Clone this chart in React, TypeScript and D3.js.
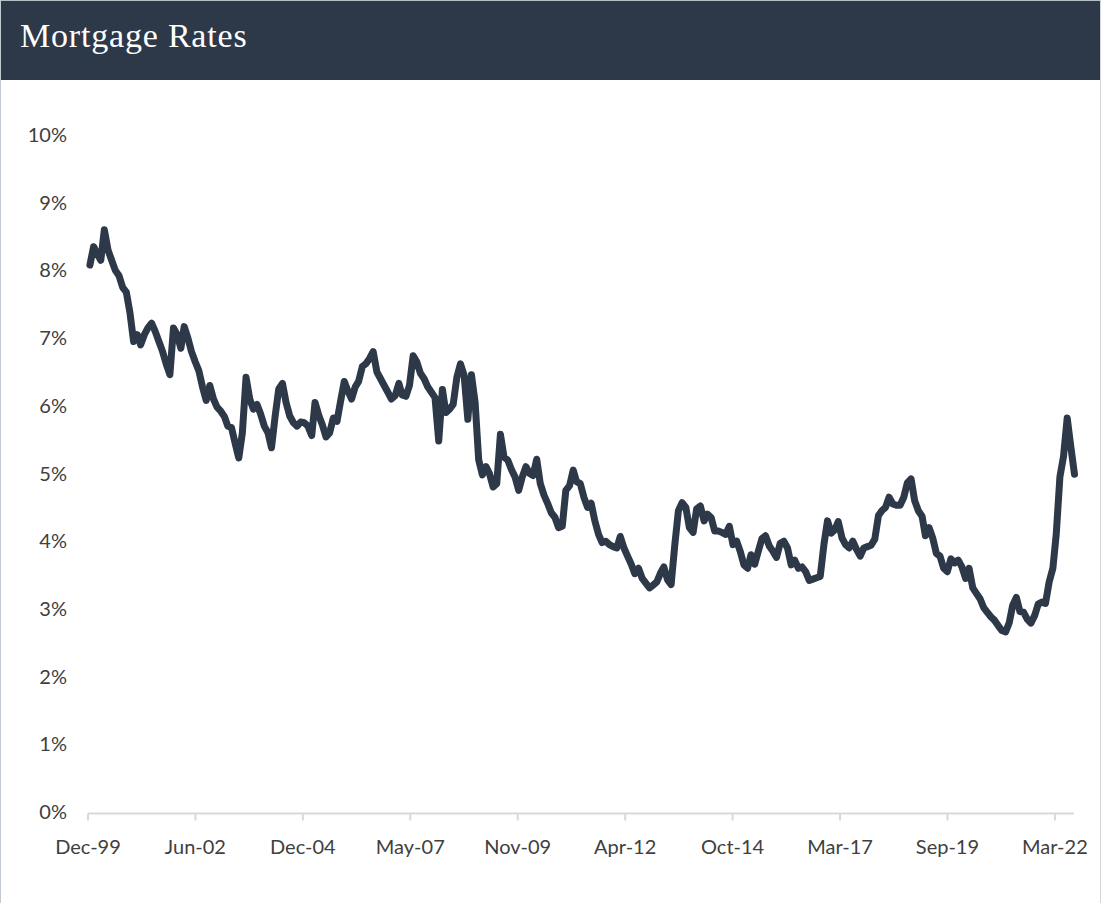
import React from 'react';
import * as d3 from 'd3';

const chartTitle = 'Mortgage Rates';
const yTickValues = [0, 1, 2, 3, 4, 5, 6, 7, 8, 9, 10];
const xTickLabels = ['Dec-99', 'Jun-02', 'Dec-04', 'May-07', 'Nov-09', 'Apr-12', 'Oct-14', 'Mar-17', 'Sep-19', 'Mar-22'];
const axisStart = '1999-12-30';
const axisEnd = '2022-08-11';
const tickStepDays = 900;
const firstMonth = '2000-01-15';

// monthly 30-year fixed mortgage rate readings (%), Jan..Dec
const rates2000 = [8.08, 8.35, 8.25, 8.15, 8.6, 8.3, 8.15, 8.0, 7.92, 7.75, 7.68, 7.38];
const rates2001 = [6.95, 7.05, 6.9, 7.05, 7.15, 7.22, 7.1, 6.95, 6.8, 6.62, 6.46, 7.15];
const rates2002 = [7.05, 6.85, 7.17, 7.0, 6.8, 6.65, 6.52, 6.28, 6.08, 6.3, 6.1, 5.98];
const rates2003 = [5.92, 5.84, 5.7, 5.68, 5.45, 5.23, 5.6, 6.42, 6.1, 5.95, 6.02, 5.88];
const rates2004 = [5.7, 5.6, 5.38, 5.85, 6.25, 6.33, 6.05, 5.85, 5.75, 5.7, 5.76, 5.75];
const rates2005 = [5.7, 5.56, 6.05, 5.86, 5.72, 5.54, 5.6, 5.82, 5.77, 6.07, 6.36, 6.22];
const rates2006 = [6.1, 6.28, 6.36, 6.58, 6.62, 6.7, 6.8, 6.5, 6.4, 6.3, 6.2, 6.1];
const rates2007 = [6.15, 6.33, 6.16, 6.14, 6.3, 6.74, 6.65, 6.48, 6.4, 6.28, 6.2, 6.12];
const rates2008 = [5.48, 6.24, 5.9, 5.95, 6.02, 6.42, 6.62, 6.45, 5.8, 6.46, 6.05, 5.2];
const rates2009 = [4.98, 5.1, 5.0, 4.8, 4.85, 5.58, 5.24, 5.2, 5.06, 4.95, 4.75, 4.95];
const rates2010 = [5.1, 5.0, 4.97, 5.21, 4.85, 4.68, 4.56, 4.42, 4.35, 4.2, 4.22, 4.75];
const rates2011 = [4.82, 5.05, 4.88, 4.85, 4.65, 4.5, 4.56, 4.3, 4.1, 3.98, 4.0, 3.95];
const rates2012 = [3.92, 3.9, 4.07, 3.9, 3.78, 3.66, 3.52, 3.6, 3.45, 3.38, 3.31, 3.35];
const rates2013 = [3.4, 3.53, 3.62, 3.43, 3.36, 3.95, 4.45, 4.57, 4.5, 4.2, 4.13, 4.48];
const rates2014 = [4.52, 4.3, 4.4, 4.35, 4.15, 4.15, 4.13, 4.1, 4.22, 3.95, 4.0, 3.85];
const rates2015 = [3.65, 3.6, 3.8, 3.66, 3.85, 4.04, 4.08, 3.93, 3.85, 3.76, 3.97, 4.0];
const rates2016 = [3.9, 3.65, 3.72, 3.6, 3.62, 3.55, 3.42, 3.44, 3.46, 3.48, 3.95, 4.3];
const rates2017 = [4.12, 4.17, 4.29, 4.05, 3.95, 3.9, 4.0, 3.88, 3.78, 3.9, 3.92, 3.94];
const rates2018 = [4.03, 4.38, 4.45, 4.5, 4.65, 4.55, 4.53, 4.53, 4.65, 4.86, 4.92, 4.6];
const rates2019 = [4.45, 4.37, 4.08, 4.2, 4.05, 3.82, 3.78, 3.6, 3.55, 3.74, 3.68, 3.72];
const rates2020 = [3.62, 3.45, 3.6, 3.31, 3.23, 3.15, 3.02, 2.95, 2.88, 2.83, 2.75, 2.68];
const rates2021 = [2.66, 2.8, 3.05, 3.17, 2.96, 2.95, 2.85, 2.79, 2.9, 3.07, 3.1, 3.08];
const rates2022 = [3.4, 3.6, 4.1, 4.95, 5.25, 5.82, 5.4, 4.99];

const monthlyRates = [
  ...rates2000, ...rates2001, ...rates2002, ...rates2003, ...rates2004, ...rates2005,
  ...rates2006, ...rates2007, ...rates2008, ...rates2009, ...rates2010, ...rates2011,
  ...rates2012, ...rates2013, ...rates2014, ...rates2015, ...rates2016, ...rates2017,
  ...rates2018, ...rates2019, ...rates2020, ...rates2021, ...rates2022,
];

const W = 1105;
const H = 903;
const navy = '#2d3848';
const labelFont = 'Lato, "Liberation Sans", sans-serif';

export default function App() {
  const parse = d3.utcParse('%Y-%m-%d');
  const start = parse(axisStart) as Date;
  const end = parse(axisEnd) as Date;
  const first = parse(firstMonth) as Date;

  const x = d3.scaleUtc().domain([start, end]).range([88, 1074]);
  const y = d3.scaleLinear().domain([0, 10]).range([812, 135]);

  const points = monthlyRates.map((v, i) => ({ date: d3.utcMonth.offset(first, i), value: v }));
  const line = d3
    .line<{ date: Date; value: number }>()
    .x((d) => x(d.date))
    .y((d) => y(d.value))
    .curve(d3.curveLinear);

  const ticks = xTickLabels.map((label, k) => ({ label, date: d3.utcDay.offset(start, k * tickStepDays) }));
  const axisY = 813.5;

  return (
    <div style={{ position: 'absolute', left: 0, top: 0 }}>
      <svg width={W} height={H} style={{ display: 'block', background: '#ffffff' }}>
        <rect x={0} y={0} width={W} height={H} fill="#ffffff" />
        <rect x={0} y={0} width={1101} height={80} fill={navy} />
        <line x1={0} x2={1101} y1={0.5} y2={0.5} stroke="#b8bec6" strokeWidth={1} />
        <line x1={0.5} x2={0.5} y1={0} y2={H} stroke="#c3c9d1" strokeWidth={1} />
        <line x1={1100.5} x2={1100.5} y1={0} y2={H} stroke="#d3d7dc" strokeWidth={1} />
        <text
          x={20}
          y={47}
          fill="#ffffff"
          fontFamily='"Liberation Serif", "DejaVu Serif", serif'
          fontSize={34}
          letterSpacing={0.8}
        >
          {chartTitle}
        </text>

        {yTickValues.map((v) => (
          <text
            key={v}
            x={67}
            y={y(v)}
            dy="0.35em"
            textAnchor="end"
            fill="#404040"
            fontFamily={labelFont}
            fontSize={20}
          >
            {`${v}%`}
          </text>
        ))}

        <line x1={x(start)} x2={x(end)} y1={axisY} y2={axisY} stroke="#d9d9d9" strokeWidth={2} />
        {ticks.map((t) => (
          <g key={t.label}>
            <line x1={x(t.date)} x2={x(t.date)} y1={axisY} y2={axisY + 7} stroke="#d9d9d9" strokeWidth={2} />
            <text
              x={x(t.date)}
              y={847}
              dy="0.35em"
              textAnchor="middle"
              fill="#404040"
              fontFamily={labelFont}
              fontSize={20}
            >
              {t.label}
            </text>
          </g>
        ))}

        <path
          d={line(points) || ''}
          fill="none"
          stroke={navy}
          strokeWidth={7}
          strokeLinejoin="round"
          strokeLinecap="round"
        />
      </svg>
    </div>
  );
}
